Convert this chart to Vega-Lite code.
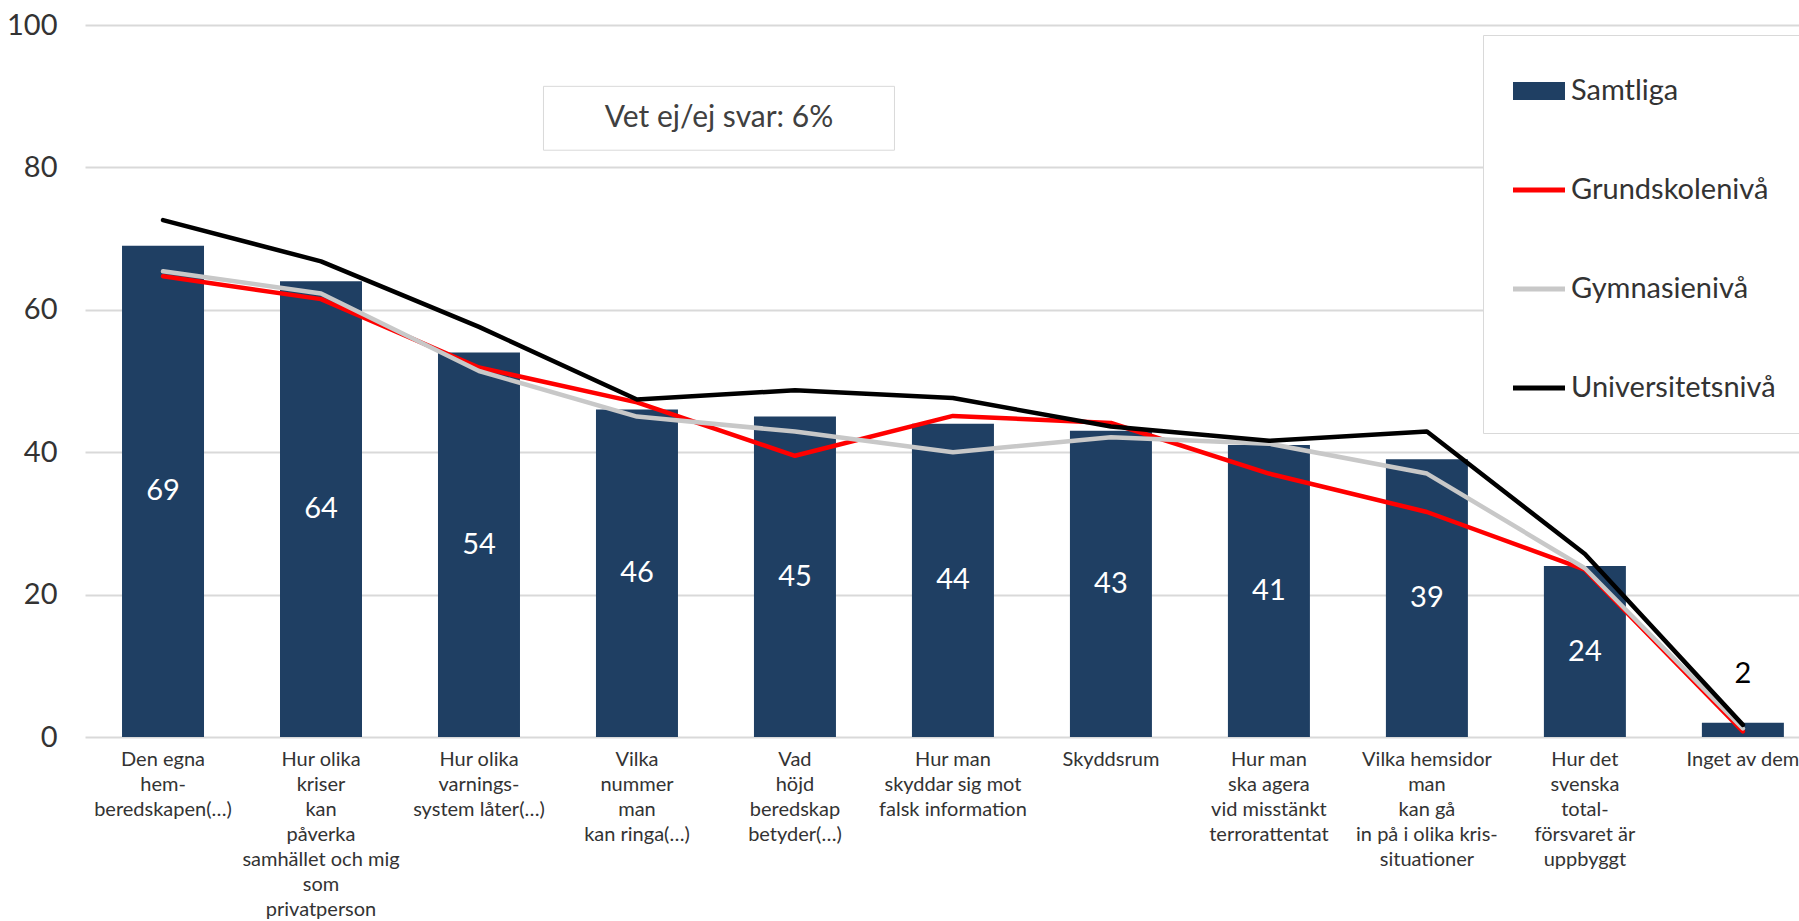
{
  "$schema": "https://vega.github.io/schema/vega-lite/v6.json",
  "autosize": {"type": "none"},
  "padding": {"left": 85, "top": 25, "right": 0, "bottom": 184},
  "width": 1714,
  "height": 712,
  "background": "white",
  "config": {"font": "Lato", "view": {"stroke": null}},
  "data": {
    "values": [
      {"kat": "Den egna|hem-|beredskapen(…)", "Samtliga": 69, "Grundskolenivå": 64.7, "Gymnasienivå": 65.4, "Universitetsnivå": 72.6},
      {"kat": "Hur olika|kriser|kan|påverka|samhället och mig|som|privatperson", "Samtliga": 64, "Grundskolenivå": 61.5, "Gymnasienivå": 62.3, "Universitetsnivå": 66.8},
      {"kat": "Hur olika|varnings-|system låter(…)", "Samtliga": 54, "Grundskolenivå": 51.9, "Gymnasienivå": 51.4, "Universitetsnivå": 57.6},
      {"kat": "Vilka|nummer|man|kan ringa(…)", "Samtliga": 46, "Grundskolenivå": 47.0, "Gymnasienivå": 45.0, "Universitetsnivå": 47.4},
      {"kat": "Vad|höjd|beredskap|betyder(…)", "Samtliga": 45, "Grundskolenivå": 39.5, "Gymnasienivå": 42.9, "Universitetsnivå": 48.7},
      {"kat": "Hur man|skyddar sig mot|falsk information", "Samtliga": 44, "Grundskolenivå": 45.1, "Gymnasienivå": 40.0, "Universitetsnivå": 47.6},
      {"kat": "Skyddsrum", "Samtliga": 43, "Grundskolenivå": 44.1, "Gymnasienivå": 42.1, "Universitetsnivå": 43.6},
      {"kat": "Hur man|ska agera|vid misstänkt|terrorattentat", "Samtliga": 41, "Grundskolenivå": 37.0, "Gymnasienivå": 41.2, "Universitetsnivå": 41.6},
      {"kat": "Vilka hemsidor|man|kan gå|in på i olika kris-|situationer", "Samtliga": 39, "Grundskolenivå": 31.6, "Gymnasienivå": 37.0, "Universitetsnivå": 42.9},
      {"kat": "Hur det|svenska|total-|försvaret är|uppbyggt", "Samtliga": 24, "Grundskolenivå": 23.5, "Gymnasienivå": 23.7, "Universitetsnivå": 25.7},
      {"kat": "Inget av dem", "Samtliga": 2, "Grundskolenivå": 0.8, "Gymnasienivå": 1.2, "Universitetsnivå": 1.7}
    ]
  },
  "resolve": {"scale": {"y": "independent"}},
  "layer": [
    {
      "mark": {"type": "bar"},
      "encoding": {
        "x": {
          "field": "kat", "type": "nominal",
          "scale": {
            "domain": ["Den egna|hem-|beredskapen(…)", "Hur olika|kriser|kan|påverka|samhället och mig|som|privatperson", "Hur olika|varnings-|system låter(…)", "Vilka|nummer|man|kan ringa(…)", "Vad|höjd|beredskap|betyder(…)", "Hur man|skyddar sig mot|falsk information", "Skyddsrum", "Hur man|ska agera|vid misstänkt|terrorattentat", "Vilka hemsidor|man|kan gå|in på i olika kris-|situationer", "Hur det|svenska|total-|försvaret är|uppbyggt", "Inget av dem"],
            "paddingInner": 0.481, "paddingOuter": 0.165, "align": 0.71
          },
          "axis": {
            "title": null, "labelAngle": 0, "domain": false, "ticks": false,
            "labelExpr": "split(datum.label, '|')",
            "labelFontSize": 20, "labelLineHeight": 25, "labelColor": "#333333",
            "labelPadding": 12, "labelLimit": 0, "labelOverlap": false, "labelBound": false
          }
        },
        "y": {
          "field": "Samtliga", "type": "quantitative",
          "scale": {"domain": [0, 100], "nice": false},
          "axis": {
            "title": null, "values": [0, 20, 40, 60, 80, 100], "grid": true,
            "gridColor": "#D9D9D9", "gridWidth": 2, "domain": false, "ticks": false,
            "labelFontSize": 29, "labelColor": "#333333", "labelPadding": 28
          }
        },
        "color": {
          "datum": "Samtliga",
          "title": null,
          "scale": {
            "domain": ["Samtliga", "Grundskolenivå", "Gymnasienivå", "Universitetsnivå"],
            "range": ["#1F3F63", "#FF0000", "#C8C8C8", "#000000"]
          },
          "legend": {
            "orient": "none", "legendX": 1398, "legendY": 10, "title": null,
            "direction": "vertical", "fillColor": "white", "strokeColor": "#D9D9D9",
            "padding": 30, "rowPadding": 58, "labelFontSize": 29, "labelColor": "#333333",
            "labelOffset": 6, "symbolSize": 2704, "labelLimit": 0, "symbolStrokeWidth": 0,
            "encode": {
              "symbols": {
                "update": {
                  "shape": {"signal": "datum.value === 'Samtliga' ? 'M-1,-0.35H1V0.35H-1Z' : 'M-1,-0.1H1V0.1H-1Z'"},
                  "fill": {"signal": "scale('color', datum.value)"},
                  "stroke": {"value": "transparent"},
                  "strokeWidth": {"value": 0},
                  "opacity": {"value": 1}
                }
              }
            }
          }
        }
      }
    },
    {
      "transform": [{"fold": ["Grundskolenivå", "Gymnasienivå", "Universitetsnivå"], "as": ["serie", "v"]}],
      "mark": {"type": "line", "strokeWidth": 4.5, "strokeCap": "round", "strokeJoin": "round"},
      "encoding": {
        "x": {"field": "kat", "type": "nominal"},
        "y": {"field": "v", "type": "quantitative", "scale": {"domain": [0, 100], "nice": false}, "axis": null},
        "color": {"field": "serie", "type": "nominal", "title": null}
      }
    },
    {
      "transform": [{"filter": "datum.Samtliga >= 10"}],
      "mark": {"type": "text", "color": "white", "fontSize": 29, "baseline": "middle", "align": "center"},
      "encoding": {
        "x": {"field": "kat", "type": "nominal"},
        "y": {"field": "Samtliga", "type": "quantitative", "scale": {"domain": [0, 200], "nice": false}, "axis": null},
        "text": {"field": "Samtliga", "type": "quantitative"}
      }
    },
    {
      "transform": [{"filter": "datum.Samtliga < 10"}],
      "mark": {"type": "text", "color": "black", "fontSize": 29, "baseline": "middle", "align": "center", "dy": -49},
      "encoding": {
        "x": {"field": "kat", "type": "nominal"},
        "y": {"field": "Samtliga", "type": "quantitative", "scale": {"domain": [0, 100], "nice": false}, "axis": null},
        "text": {"field": "Samtliga", "type": "quantitative"}
      }
    },
    {
      "data": {"values": [{"note": "Vet ej/ej svar: 6%"}]},
      "layer": [
        {
          "mark": {"type": "point", "shape": "M-1,-0.182H1V0.182H-1Z", "size": 123201, "filled": true, "fill": "white", "stroke": "#D9D9D9", "strokeWidth": 1, "opacity": 1},
          "encoding": {
            "x": {"datum": "Vilka|nummer|man|kan ringa(…)", "bandPosition": 1.5},
            "y": {"datum": 86.9, "type": "quantitative", "scale": {"domain": [0, 100], "nice": false}, "axis": null}
          }
        },
        {
          "mark": {"type": "text", "fontSize": 30, "color": "#404040", "baseline": "middle", "align": "center"},
          "encoding": {
            "x": {"datum": "Vilka|nummer|man|kan ringa(…)", "bandPosition": 1.5},
            "y": {"datum": 86.9, "type": "quantitative", "scale": {"domain": [0, 100], "nice": false}, "axis": null},
            "text": {"field": "note"}
          }
        }
      ]
    }
  ]
}
